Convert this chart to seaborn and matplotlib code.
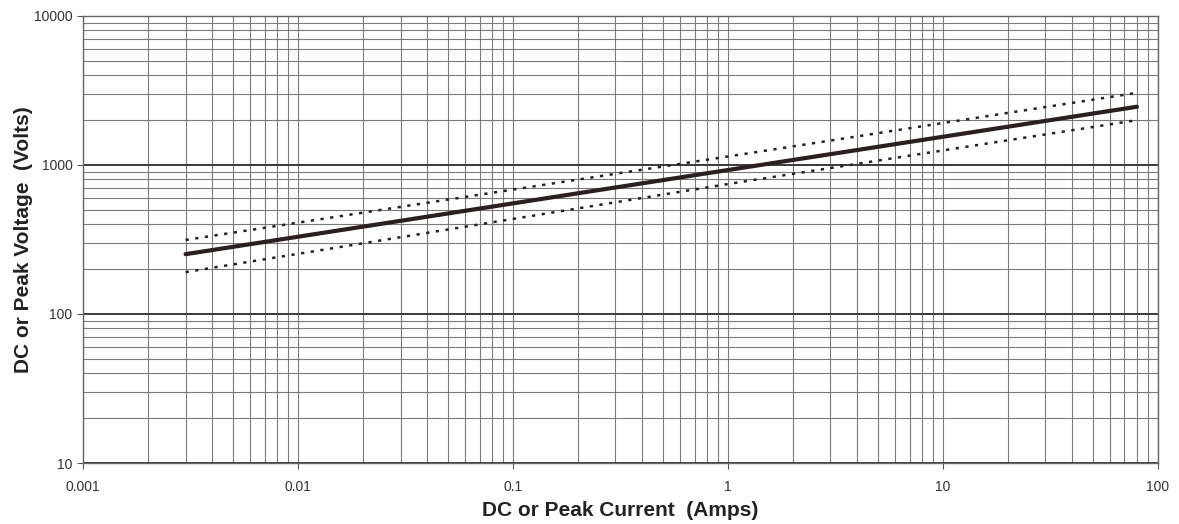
import matplotlib
matplotlib.use("Agg")
import matplotlib.pyplot as plt
import seaborn as sns
import pandas as pd
import numpy as np
from matplotlib.ticker import LogLocator, NullFormatter

current = [0.003, 1.0, 80.0]
voltage_nom = [252, 925, 2460]
voltage_hi = [314, 1140, 3050]
voltage_lo = [191, 745, 2000]

sns.set_theme(style="white")
plt.rcParams['font.family'] = ['Liberation Sans', 'DejaVu Sans']

fig = plt.figure(figsize=(11.79, 5.24), dpi=100)
ax = fig.add_axes([0.0704, 0.1164, 0.9116, 0.8531])

df = pd.DataFrame({"I": current, "nom": voltage_nom, "hi": voltage_hi, "lo": voltage_lo})

ax.set_xscale("log")
ax.set_yscale("log")
ax.set_xlim(0.001, 100)
ax.set_ylim(10, 10000)

ax.xaxis.set_minor_locator(LogLocator(base=10, subs=np.arange(2, 10)))
ax.yaxis.set_minor_locator(LogLocator(base=10, subs=np.arange(2, 10)))
ax.grid(True, which="minor", axis="both", color="#7a7a7a", linewidth=0.8)
ax.grid(True, which="major", axis="x", color="#7a7a7a", linewidth=0.8)
ax.grid(True, which="major", axis="y", color="#3a3a3a", linewidth=1.4)
ax.set_axisbelow(True)

sns.lineplot(data=df, x="I", y="hi", ax=ax, color="#222222", linewidth=1.8,
             linestyle=(0, (1.3, 2.6)))
sns.lineplot(data=df, x="I", y="lo", ax=ax, color="#222222", linewidth=1.8,
             linestyle=(0, (1.3, 2.6)))
sns.lineplot(data=df, x="I", y="nom", ax=ax, color="#2a2020", linewidth=3.0)

ax.set_xticks([0.001, 0.01, 0.1, 1, 10, 100])
ax.set_xticklabels(["0.001", "0.01", "0.1", "1", "10", "100"])
ax.set_yticks([10, 100, 1000, 10000])
ax.set_yticklabels(["10", "100", "1000", "10000"])
ax.xaxis.set_minor_formatter(NullFormatter())
ax.yaxis.set_minor_formatter(NullFormatter())
ax.tick_params(which="major", length=4, width=0.8, color="#555555",
               labelsize=10, labelcolor="#333333", bottom=True, left=True)
ax.tick_params(axis="x", pad=8)
ax.tick_params(which="minor", length=0)

for s in ax.spines.values():
    s.set_color("#666666")
    s.set_linewidth(1.0)

ax.set_xlabel("DC or Peak Current  (Amps)", fontsize=15, fontweight="bold",
              color="#222222")
ax.set_ylabel("DC or Peak Voltage  (Volts)", fontsize=15, fontweight="bold",
              color="#222222")
ax.xaxis.set_label_coords(0.5, -0.086)
ax.yaxis.set_label_coords(-0.0465, 0.5)

fig.savefig("out.png", dpi=100)
